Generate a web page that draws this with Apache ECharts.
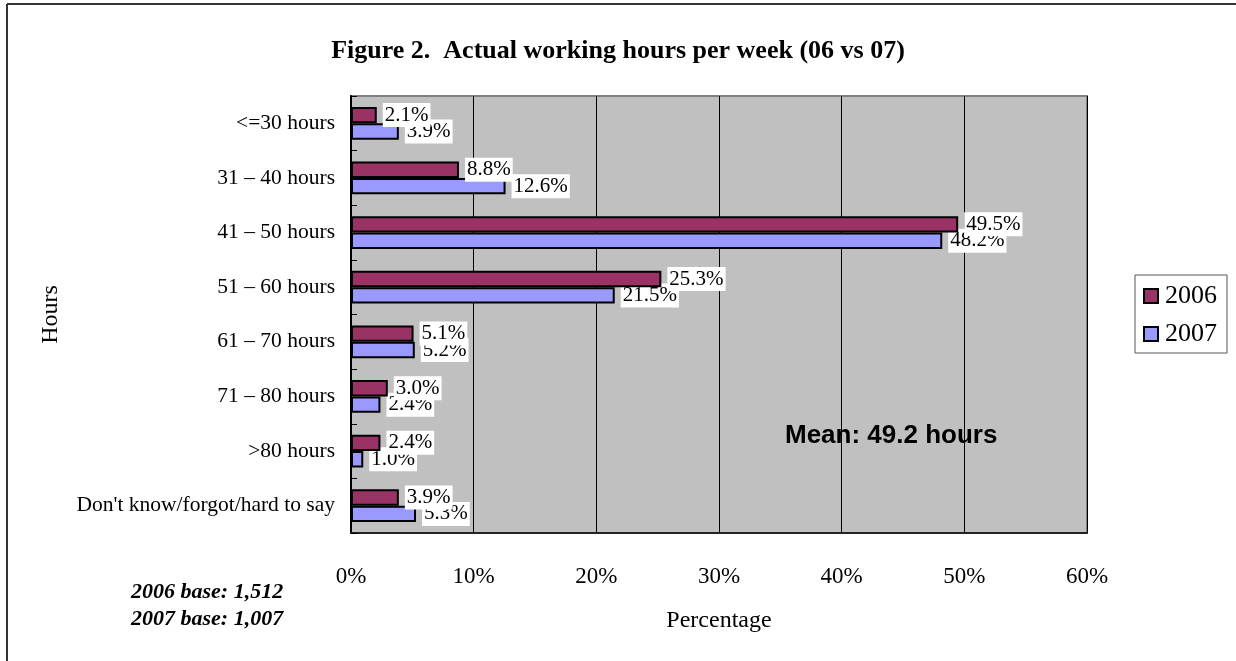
<!DOCTYPE html>
<html>
<head>
<meta charset="utf-8">
<script src="https://cdn.jsdelivr.net/npm/echarts@6/dist/echarts.min.js"></script>
<style>
  html, body { margin: 0; padding: 0; background: #fff; }
  #chart { width: 1236px; height: 661px; }
</style>
</head>
<body>
<div id="chart"></div>
<script>
// Weekly working hours, share of respondents by band (percent)
const categories = [
  '<=30 hours', '31 \u2013 40 hours', '41 \u2013 50 hours', '51 \u2013 60 hours',
  '61 \u2013 70 hours', '71 \u2013 80 hours', '>80 hours', "Don't know/forgot/hard to say"
];
const values2006 = [2.1, 8.8, 49.5, 25.3, 5.1, 3.0, 2.4, 3.9];
const values2007 = [3.9, 12.6, 48.2, 21.5, 5.2, 2.4, 1.0, 5.3];
const seriesNames = ['2006', '2007'];
const xTicks = { min: 0, max: 60, step: 10 };
const titleText = 'Figure 2.  Actual working hours per week (06 vs 07)';
const meanText = 'Mean: 49.2 hours';
const baseNotes = ['2006 base: 1,512', '2007 base: 1,007'];

const SERIF = '"Liberation Serif", "Times New Roman", serif';
const SANS = '"Liberation Sans", Arial, sans-serif';

const chart = echarts.init(document.getElementById('chart'), null, { renderer: 'canvas' });

function barSeries(name, data, color, z) {
  return {
    name: name,
    type: 'bar',
    data: data,
    z: z,
    barGap: '0%',
    barCategoryGap: '40%',
    itemStyle: { color: color, borderColor: '#000', borderWidth: 2 },
    label: {
      show: true,
      position: 'right',
      distance: 6,
      formatter: p => p.value.toFixed(1) + '%',
      fontFamily: SERIF,
      fontSize: 21,
      color: '#000',
      backgroundColor: '#fff',
      padding: [3, 2, 0, 2]
    },
    emphasis: { disabled: true }
  };
}

chart.setOption({
  animation: false,
  backgroundColor: '#fff',
  title: {
    text: titleText,
    left: 'center',
    top: 33,
    textStyle: { fontFamily: SERIF, fontSize: 26, fontWeight: 'bold', color: '#000' }
  },
  grid: {
    left: 351, top: 96, right: 149, bottom: 128,
    show: true,
    backgroundColor: '#C0C0C0',
    borderColor: '#808080',
    borderWidth: 2
  },
  legend: {
    orient: 'vertical',
    left: 1135,
    top: 275,
    data: seriesNames,
    itemWidth: 14,
    itemHeight: 14,
    itemGap: 12,
    icon: 'rect',
    padding: [8, 10, 6, 8],
    borderColor: '#555',
    borderWidth: 1,
    itemStyle: { borderColor: '#000', borderWidth: 2 },
    textStyle: { fontFamily: SERIF, fontSize: 26, color: '#000', padding: [0, 0, 0, 2] }
  },
  xAxis: {
    type: 'value',
    min: xTicks.min,
    max: xTicks.max,
    interval: xTicks.step,
    name: 'Percentage',
    nameLocation: 'middle',
    nameGap: 76,
    nameTextStyle: { fontFamily: SERIF, fontSize: 24, color: '#000' },
    axisLine: { show: true, lineStyle: { color: '#222', width: 2 } },
    axisTick: { show: false },
    axisLabel: {
      formatter: '{value}%',
      margin: 32,
      fontFamily: SERIF,
      fontSize: 23,
      color: '#000'
    },
    splitLine: { show: true, lineStyle: { color: '#000', width: 1 } }
  },
  yAxis: {
    type: 'category',
    data: categories,
    inverse: true,
    name: 'Hours',
    nameLocation: 'middle',
    nameGap: 288,
    nameRotate: 90,
    nameTextStyle: { fontFamily: SERIF, fontSize: 24, color: '#000' },
    axisLine: { show: true, lineStyle: { color: '#000', width: 2 } },
    axisTick: { show: true, inside: true, length: 6, lineStyle: { color: '#000', width: 1 } },
    axisLabel: { margin: 16, fontFamily: SERIF, fontSize: 21.5, color: '#000', padding: [7, 0, 0, 0] },
    splitLine: { show: false }
  },
  series: [
    barSeries(seriesNames[0], values2006, '#993366', 3),
    barSeries(seriesNames[1], values2007, '#9999FF', 2)
  ],
  graphic: [
    { type: 'line', shape: { x1: 7, y1: 4, x2: 1236, y2: 4 }, style: { stroke: '#333', lineWidth: 2 } },
    { type: 'line', shape: { x1: 7, y1: 4, x2: 7, y2: 661 }, style: { stroke: '#333', lineWidth: 2 } },
    {
      type: 'text', left: 785, top: 423, z: 10,
      style: { text: meanText, font: 'bold 26px ' + SANS, fill: '#000' }
    },
    {
      type: 'text', left: 131, top: 581, z: 10,
      style: { text: baseNotes[0], font: 'italic bold 22px ' + SERIF, fill: '#000' }
    },
    {
      type: 'text', left: 131, top: 608, z: 10,
      style: { text: baseNotes[1], font: 'italic bold 22px ' + SERIF, fill: '#000' }
    }
  ]
});
</script>
</body>
</html>
